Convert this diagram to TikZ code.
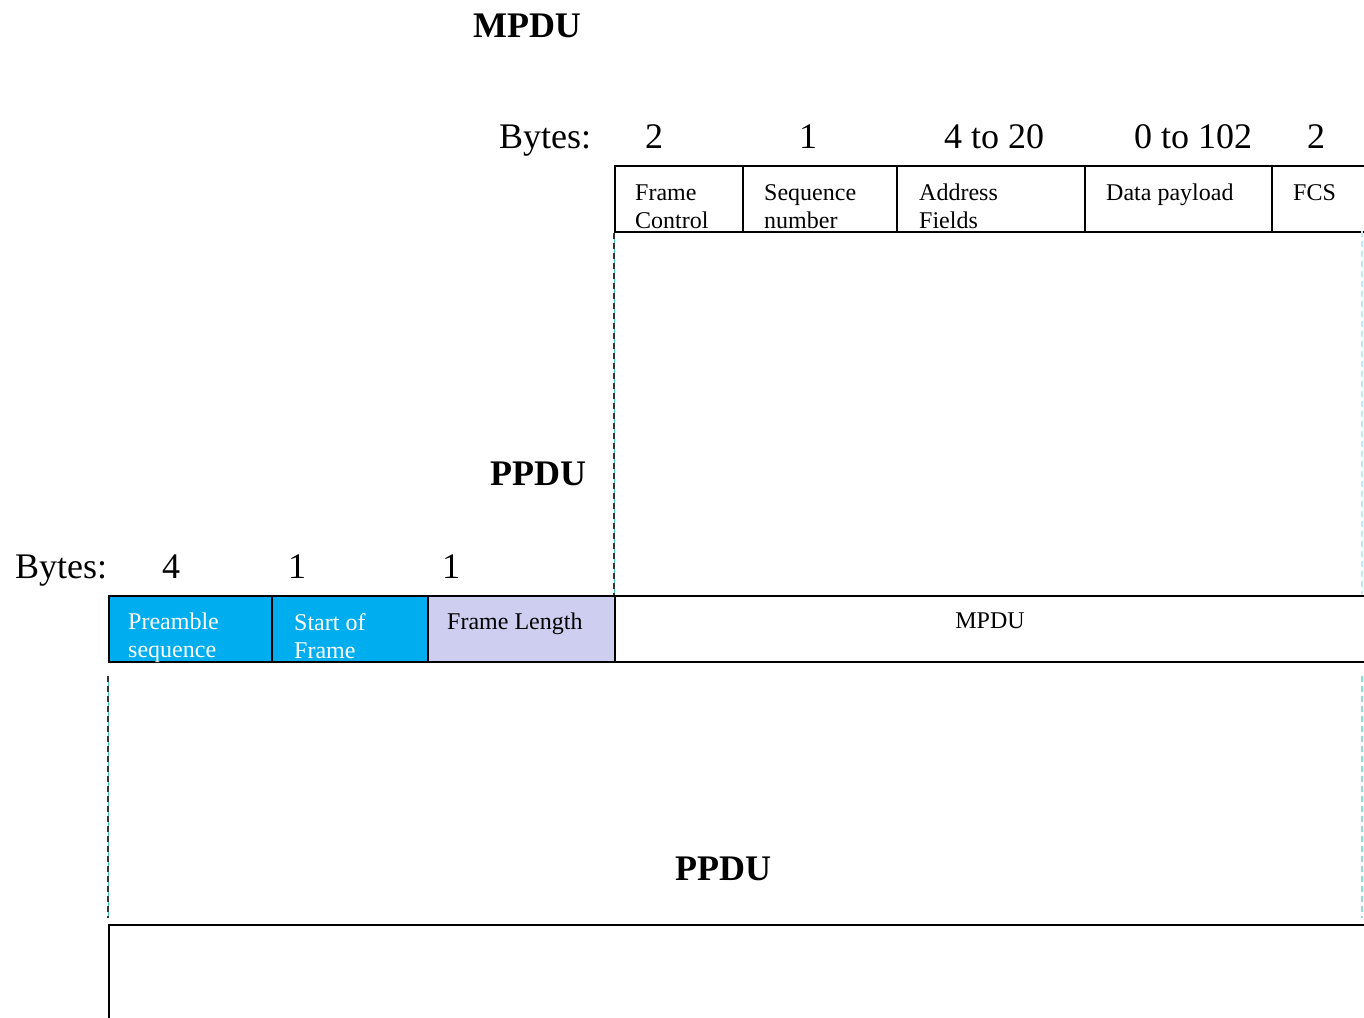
\documentclass[tikz,border=0pt]{standalone}
\usepackage{fontspec}
\setmainfont{Liberation Serif}
\definecolor{hdrcyan}{RGB}{0,174,239}
\definecolor{lav}{RGB}{206,206,240}
\definecolor{dashteal}{RGB}{64,200,190}
\begin{document}
\begin{tikzpicture}[x=1pt,y=-1pt,
  cell/.style={draw=black, line width=2pt, anchor=north west, inner sep=0pt, minimum height=66pt},
  lbl/.style={anchor=north west, inner sep=0pt, align=left, font=\fontsize{24}{28}\selectfont},
  big/.style={anchor=base, inner sep=0pt, font=\fontsize{36}{40}\selectfont},
  head/.style={anchor=base, inner sep=0pt, font=\fontsize{36}{40}\selectfont\bfseries},
  guide/.style={draw=dashteal, line width=1pt},
  guidedash/.style={draw=black!80, line width=2.5pt, dash pattern=on 6pt off 4pt},
  faint/.style={draw=cyan!25, line width=1.5pt, dash pattern=on 6pt off 4pt}]
\useasboundingbox (0,0) rectangle (1364,1017);
\fill[white] (0,0) rectangle (1364,1017);

% headings
\node[head] (hmpdu) at (527,37) {MPDU};
\node[head] (hppdu1) at (538,485) {PPDU};
\node[head] (hppdu2) at (723,880) {PPDU};

% top row: MPDU fields
\node[big, anchor=base west] (bytes1) at (499,148) {Bytes:};
\node[big] (n1) at (654,148) {2};
\node[big] (n2) at (808,148) {1};
\node[big] (n3) at (994,148) {4 to 20};
\node[big] (n4) at (1193,148) {0 to 102};
\node[big] (n5) at (1316,148) {2};

\node[cell, minimum width=128pt] (fc) at (614,165) {};
\node[cell, minimum width=154pt] (sn) at (742,165) {};
\node[cell, minimum width=188pt] (af) at (896,165) {};
\node[cell, minimum width=187pt] (dp) at (1084,165) {};
\node[cell, minimum width=140pt] (fcs) at (1271,165) {};

\node[lbl] (tfc) at (635,185) {Frame\\Control};
\node[lbl] (tsn) at (764,184) {Sequence\\number};
\node[lbl] (taf) at (919,184) {Address\\Fields};
\node[lbl] (tdp) at (1106,184) {Data payload};
\node[lbl] (tfcs) at (1293,184) {FCS};

% lower row: PPDU fields
\node[big, anchor=base west] (bytes2) at (15,578) {Bytes:};
\node[big] (m1) at (171,578) {4};
\node[big] (m2) at (297,578) {1};
\node[big] (m3) at (451,578) {1};

\node[cell, fill=hdrcyan, minimum width=163pt] (ps) at (108,595) {};
\node[cell, fill=hdrcyan, minimum width=156pt] (sf) at (271,595) {};
\node[cell, fill=lav, minimum width=187pt] (fl) at (427,595) {};
\node[cell, minimum width=800pt] (mp) at (614,595) {};

\node[lbl, text=white] (tps) at (128,613) {Preamble\\sequence};
\node[lbl, text=white] (tsf) at (294,613) {Start of\\Frame};
\node[lbl] (tfl) at (447,613) {Frame Length};
\node[lbl, anchor=north] (tmp) at (990,613) {MPDU};

% bottom box
\node[cell, minimum width=1300pt, minimum height=200pt] (pp) at (108,924) {};

% guide lines
\coordinate (g1a) at (fc.south west);
\coordinate (g1b) at (mp.north west);
\coordinate (g2a) at (1362,231);
\coordinate (g2b) at (1362,594);
\coordinate (g3a) at (108,676);
\coordinate (g3b) at (108,918);
\coordinate (g4a) at (1362,676);
\coordinate (g4b) at (1362,918);

\draw[guide] (g1a) -- (g1b);
\draw[guidedash] (g1a) -- (g1b);
\draw[guide] (g3a) -- (g3b);
\draw[guidedash] (g3a) -- (g3b);
\draw[faint] (g2a) -- (g2b);
\draw[draw=dashteal!60, line width=1.5pt, dash pattern=on 6pt off 4pt] (g4a) -- (g4b);
\end{tikzpicture}
\end{document}
